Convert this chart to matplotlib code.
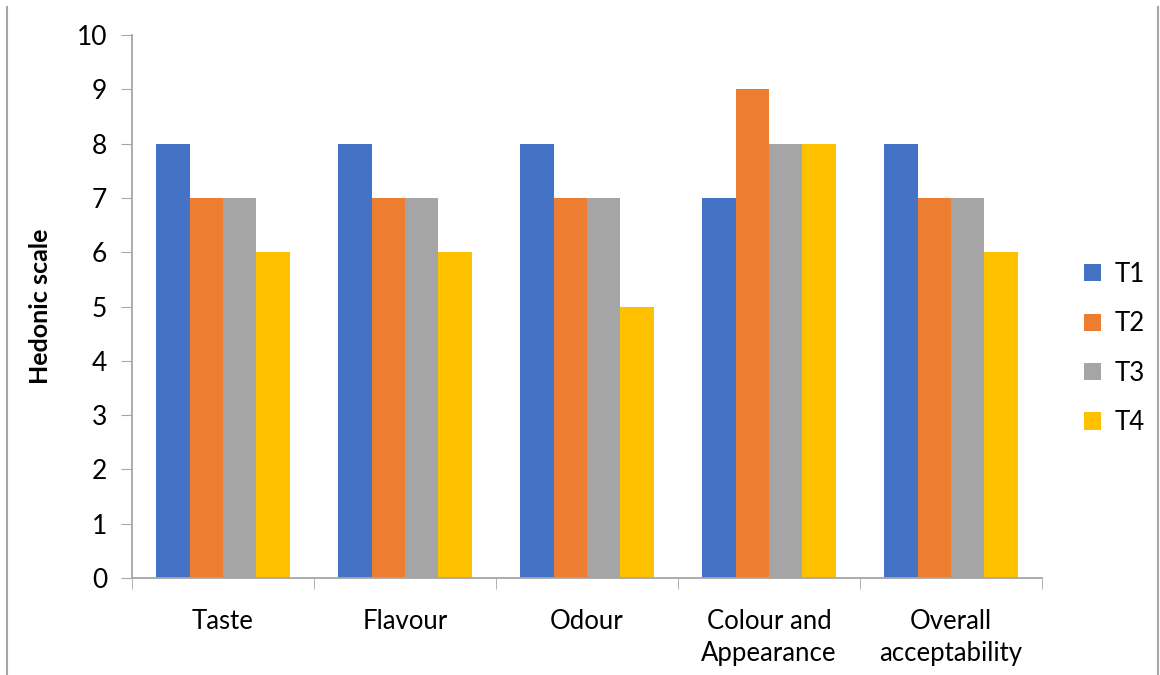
import numpy as np
import matplotlib.pyplot as plt
from matplotlib.lines import Line2D

plt.rcParams['font.family'] = ['Lato', 'DejaVu Sans']

categories = ['Taste', 'Flavour', 'Odour', 'Colour and\nAppearance', 'Overall\nacceptability']
series = ['T1', 'T2', 'T3', 'T4']
t1 = [8, 8, 8, 7, 8]
t2 = [7, 7, 7, 9, 7]
t3 = [7, 7, 7, 8, 7]
t4 = [6, 6, 5, 8, 6]
colors = ['#4472C4', '#ED7D31', '#A5A5A5', '#FFC000']


def main():
    fig = plt.figure(figsize=(11.6, 6.75), dpi=100)
    ax = fig.add_axes([0.1138, 0.1437, 0.7845, 0.8043])

    x = np.arange(len(categories))
    w = 0.183
    for i, (vals, name) in enumerate(zip([t1, t2, t3, t4], series)):
        ax.bar(x + (i - 1.5) * w, vals, w, color=colors[i], label=name)

    ax.set_xlim(-0.5, len(categories) - 0.5)
    ax.set_ylim(0, 10)
    ax.set_yticks(range(0, 11))
    ax.set_xticks(x)
    ax.set_xticklabels(categories, fontsize=18.5, linespacing=1.38)
    ax.tick_params(axis='x', length=0, pad=22)
    ax.tick_params(axis='y', labelsize=19, length=8, color='#A6A6A6', pad=10)

    # category separators below the x axis
    ax.set_xticks(np.arange(-0.5, len(categories)), minor=True)
    ax.tick_params(axis='x', which='minor', length=8, color='#A6A6A6', direction='out')

    for s in ['top', 'right']:
        ax.spines[s].set_visible(False)
    for s in ['left', 'bottom']:
        ax.spines[s].set_color('#A6A6A6')
        ax.spines[s].set_linewidth(1.3)

    ax.set_ylabel('Hedonic scale', fontsize=18, fontweight='bold', labelpad=18)

    ax.legend(loc='center left', bbox_to_anchor=(1.021, 0.423), frameon=False,
              fontsize=18.5, handlelength=0.65, handleheight=0.65, labelspacing=0.95,
              handletextpad=0.55)

    # outer frame lines at the left and right edges
    fig.add_artist(Line2D([0.006, 0.006], [0.0, 0.99], color='#A6A6A6', lw=1.5))
    fig.add_artist(Line2D([0.998, 0.998], [0.0, 0.99], color='#A6A6A6', lw=1.5))

    fig.savefig('out.png', dpi=100)


if __name__ == '__main__':
    main()
